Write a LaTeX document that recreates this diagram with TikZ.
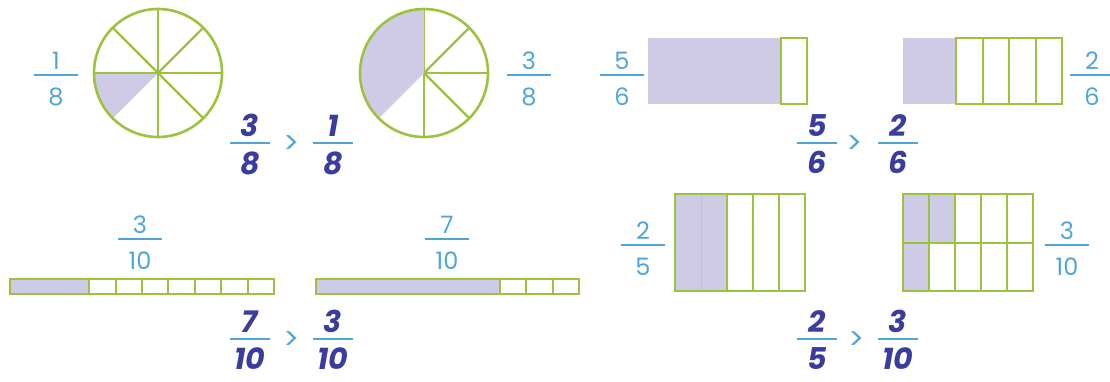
\documentclass[tikz,border=0pt]{standalone}
\usepackage{fontspec}
\setmainfont{Poppins}
\usepackage{tikz}
\usetikzlibrary{positioning}

\definecolor{lgreen}{HTML}{9DC23F}
\definecolor{lilac}{HTML}{CFCBE7}
\definecolor{lblue}{HTML}{4FA5DA}
\definecolor{dblue}{HTML}{3B3D9E}

\tikzset{
  lbl/.style={text=lblue,inner sep=0pt,font=\fontsize{24}{28}\selectfont},
  big/.style={text=dblue,inner sep=0pt,font=\fontsize{30}{34}\selectfont\bfseries\itshape},
  fbar/.style={fill=lblue,inner sep=0pt,minimum width=44pt,minimum height=1.5pt},
  cbar/.style={fill=lblue,inner sep=0pt,minimum width=40pt,minimum height=2.2pt},
  gt/.style={text=lblue,inner sep=0pt,font=\fontsize{30}{34}\selectfont},
  cell/.style={draw=lgreen,line width=2pt},
  wheel/.style={draw=lgreen,line width=2.6pt},
  spoke/.style={draw=lgreen,line width=2.2pt},
  shade/.style={fill=lilac},
  faint/.style={draw=lgreen!30!lilac,line width=1pt},
}

% fraction beside a picture: name, position, numerator, denominator
\newcommand{\labelfrac}[4]{%
  \node[fbar] (#1) at (#2) {};
  \node[lbl,above=4pt of #1] (#1n) {#3};
  \node[lbl,below=12pt of #1] (#1d) {#4};}
% fraction in the comparison
\newcommand{\bigfrac}[4]{%
  \node[cbar] (#1) at (#2) {};
  \node[big,above=5pt of #1] (#1n) {#3};
  \node[big,below=7pt of #1] (#1d) {#4};}

\begin{document}
\begin{tikzpicture}[x=1pt,y=-1pt]
\useasboundingbox (0,0) rectangle (1110,381);

% circles: 1/8 and 3/8
\coordinate (c18) at (158,73);
\coordinate (c38) at (424,73);
\foreach \a in {0,45,90,180,225,270,315}
  \draw[spoke] (c18) -- ++(\a:64);
\fill[shade] (c18) -- ++(135:64) arc (135:180:64) -- cycle;
\draw[spoke] (c18) -- ++(180:64);
\draw[wheel] (c18) circle (64);
\foreach \a in {270,315,0,45,90}
  \draw[spoke] (c38) -- ++(\a:64);
\fill[shade] (c38) -- ++(135:64) arc (135:270:64) -- cycle;
\draw[wheel] (c38) circle (64);

\labelfrac{l18}{56,75}{1}{8}
\labelfrac{l38}{529,75}{3}{8}
\bigfrac{k38}{250,143}{3}{8}
\node[gt] (gt1) at (292,145) {>};
\bigfrac{k18}{333,143}{1}{8}

% rectangles: 5/6 and 2/6
\fill[shade] (648,38) rectangle (780.5,104);
\draw[cell] (780.5,38) rectangle (807,104);
\fill[shade] (903,38) rectangle (956,104);
\foreach \i in {0,...,3}
  \draw[cell] ({956+26.5*\i},38) rectangle ++(26.5,66);

\labelfrac{l56}{622,75}{5}{6}
\labelfrac{l26}{1092,75}{2}{6}
\bigfrac{k56}{817,143}{5}{6}
\node[gt] (gt2) at (855,145) {>};
\bigfrac{k26}{898,143}{2}{6}

% strips: 3/10 and 7/10
\fill[shade] (10,279) rectangle (89.2,294);
\foreach \i in {3,...,9}
  \draw[cell] ({10+26.4*\i},279) rectangle ++(26.4,15);
\draw[cell] (10,279) rectangle (274,294);
\fill[shade] (316,279) rectangle (500.1,294);
\foreach \i in {7,8,9}
  \draw[cell] ({316+26.3*\i},279) rectangle ++(26.3,15);
\draw[cell] (316,279) rectangle (579,294);

\labelfrac{l310a}{140,239}{3}{10}
\labelfrac{l710}{447,239}{7}{10}
\bigfrac{k710}{250,339}{7}{10}
\node[gt] (gt3) at (292,341) {>};
\bigfrac{k310a}{333,339}{3}{10}

% rectangles: 2/5 and 3/10
\fill[shade] (675,194) rectangle (727,291);
\draw[faint] (701,194) -- (701,291);
\foreach \i in {2,3,4}
  \draw[cell] ({675+26*\i},194) rectangle ++(26,97);
\draw[cell] (675,194) rectangle (805,291);
\fill[shade] (903,194) rectangle (929,291);
\fill[shade] (929,194) rectangle (955,242.5);
\foreach \i in {0,...,4}
  \foreach \j in {0,1}
    \draw[cell] ({903+26*\i},{194+48.5*\j}) rectangle ++(26,48.5);

\labelfrac{l25}{643,245}{2}{5}
\labelfrac{l310b}{1067,245}{3}{10}
\bigfrac{k25}{817,339}{2}{5}
\node[gt] (gt4) at (857,341) {>};
\bigfrac{k310b}{898,339}{3}{10}
\end{tikzpicture}
\end{document}
